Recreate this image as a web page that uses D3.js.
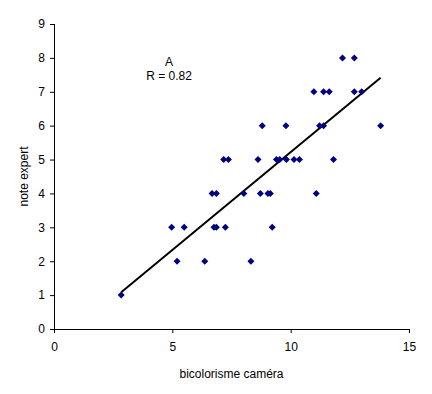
<!DOCTYPE html>
<html>
<head>
<meta charset="utf-8">
<script src="https://cdn.jsdelivr.net/npm/d3@7"></script>
<style>
  body { margin: 0; background: #fff; }
  svg { font-family: "Liberation Sans", Arial, sans-serif; font-size: 12px; }
</style>
</head>
<body>
<div id="chart"></div>
<script>
const cameraValues = [2.84, 5.2, 6.37, 8.32, 4.97, 5.5, 6.76, 6.86, 7.24, 9.22,
  6.68, 6.86, 8.02, 8.72, 9.04, 9.14, 11.08,
  7.17, 7.37, 8.62, 9.4, 9.54, 9.82, 10.14, 10.37, 11.81,
  8.8, 9.8, 11.22, 11.39, 13.8,
  10.98, 11.39, 11.63, 12.69, 13.0,
  12.19, 12.69]
const expertValues = [1, 2, 2, 2, 3, 3, 3, 3, 3, 3,
  4, 4, 4, 4, 4, 4, 4,
  5, 5, 5, 5, 5, 5, 5, 5, 5,
  6, 6, 6, 6, 6,
  7, 7, 7, 7, 7,
  8, 8]
const xTicks = [0, 5, 10, 15]
const yTicks = [0, 1, 2, 3, 4, 5, 6, 7, 8, 9]
const labelText = ['A', 'R = 0.82']

const w = 432, h = 394
const x = d3.scaleLinear().domain([0, 15]).range([54, 409])
const y = d3.scaleLinear().domain([0, 9]).range([329, 24])

const svg = d3.select('#chart').append('svg')
  .attr('width', w)
  .attr('height', h)

const points = cameraValues.map((v, i) => ({ x: v, y: expertValues[i] }))

// least squares trend line
const mx = d3.mean(points, d => d.x)
const my = d3.mean(points, d => d.y)
const slope = d3.sum(points, d => (d.x - mx) * (d.y - my)) / d3.sum(points, d => (d.x - mx) ** 2)
const intercept = my - slope * mx
const [xmin, xmax] = d3.extent(cameraValues)

svg.append('g')
  .attr('transform', 'translate(0,329)')
  .call(d3.axisBottom(x).tickValues(xTicks).tickSize(4).tickPadding(9))
  .call(g => g.selectAll('text').attr('font-size', 12).attr('font-family', null).attr('fill', '#000'))

svg.append('g')
  .attr('transform', 'translate(54,0)')
  .call(d3.axisLeft(y).tickValues(yTicks).tickSize(4).tickPadding(5))
  .call(g => g.selectAll('text').attr('font-size', 12).attr('font-family', null).attr('fill', '#000'))

svg.selectAll('.domain').attr('stroke', '#000').attr('d', function () {
  return d3.select(this.parentNode).attr('transform').includes('329')
    ? `M${x(0)},0.5H${x(15)}` : `M0.5,${y(0)}V${y(9)}`
})

svg.append('line')
  .attr('x1', x(xmin)).attr('y1', y(intercept + slope * xmin))
  .attr('x2', x(xmax)).attr('y2', y(intercept + slope * xmax))
  .attr('stroke', '#000')
  .attr('stroke-width', 2)

svg.append('g')
  .selectAll('path')
  .data(points)
  .join('path')
    .attr('transform', d => `translate(${x(d.x)},${y(d.y)})`)
    .attr('d', 'M0,-3.5L3.5,0L0,3.5L-3.5,0Z')
    .attr('fill', '#000080')

svg.append('g')
  .selectAll('text')
  .data(labelText)
  .join('text')
    .attr('x', 169)
    .attr('y', (d, i) => 66 + i * 14)
    .attr('text-anchor', 'middle')
    .text(d => d)

svg.append('text')
  .attr('x', x(7.5))
  .attr('y', 378)
  .attr('text-anchor', 'middle')
  .text('bicolorisme caméra')

svg.append('text')
  .attr('transform', `translate(28,${y(4.5)}) rotate(-90)`)
  .attr('text-anchor', 'middle')
  .text('note expert')
</script>
</body>
</html>
